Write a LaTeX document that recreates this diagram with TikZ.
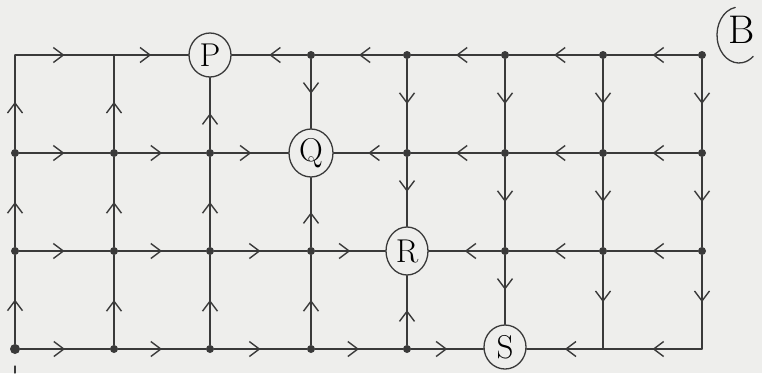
\documentclass[tikz,border=0pt]{standalone}
\usepackage{fontspec}
\setmainfont{Latin Modern Roman}
\usetikzlibrary{arrows.meta,decorations.markings,shapes.geometric}
\definecolor{paper}{HTML}{EEEEEC}
\definecolor{ink}{HTML}{3A3A3A}
\begin{document}
\begin{tikzpicture}[x=1pt,y=-1pt,line cap=round,
  edge/.style={draw=ink, line width=1.3pt, postaction={decorate},
    decoration={markings, mark=at position 0.5 with {\arrow[ink,line width=1.4pt]{Straight Barb[length=10pt,width=15pt]}}}},
  plain/.style={draw=ink, line width=1.3pt},
  dot/.style={circle, fill=ink, inner sep=0pt, minimum size=8pt},
  bigdot/.style={circle, fill=ink, inner sep=0pt, minimum size=10pt},
  lab/.style={ellipse, draw=ink, line width=1.3pt, minimum width=42pt, minimum height=44pt, inner sep=0pt, font=\fontsize{33}{35}\selectfont, fill=paper}]
\fill[paper] (0,0) rectangle (762,373);
\useasboundingbox (0,0) rectangle (762,373);
% row 0 (y=55)
\coordinate (a0) at (15,55);
\coordinate (a1) at (114,55);
\node[lab] (P) at (210,55) {P};
\node[dot] (a3) at (311,55) {};
\node[dot] (a4) at (407,55) {};
\node[dot] (a5) at (505,55) {};
\node[dot] (a6) at (603,55) {};
\node[dot] (a7) at (702,55) {};
% row 1 (y=153)
\node[dot] (b0) at (15,153) {};
\node[dot] (b1) at (114,153) {};
\node[dot] (b2) at (210,153) {};
\node[lab, minimum width=44pt, minimum height=48pt] (Q) at (311,153) {Q};
\node[dot] (b4) at (407,153) {};
\node[dot] (b5) at (505,153) {};
\node[dot] (b6) at (603,153) {};
\node[dot] (b7) at (702,153) {};
% row 2 (y=251)
\node[dot] (c0) at (15,251) {};
\node[dot] (c1) at (114,251) {};
\node[dot] (c2) at (210,251) {};
\node[dot] (c3) at (311,251) {};
\node[lab, minimum width=42pt, minimum height=48pt] (R) at (407,251) {R};
\node[dot] (c5) at (505,251) {};
\node[dot] (c6) at (603,251) {};
\node[dot] (c7) at (702,251) {};
% row 3 (y=349)
\node[bigdot] (d0) at (15,349) {};
\node[dot] (d1) at (114,349) {};
\node[dot] (d2) at (210,349) {};
\node[dot] (d3) at (311,349) {};
\node[dot] (d4) at (407,349) {};
\node[lab] (S) at (505,347) {S};
\coordinate (d6) at (603,349);
\coordinate (d7) at (702,349);
\coordinate (t0) at (15,366);
\coordinate (t1) at (15,373);
% B label
\node[font=\fontsize{40}{42}\selectfont, inner sep=0pt] (B) at (742,30) {B};
\coordinate (Bc) at (739,35);
\draw[plain] (Bc) ++({22*cos(-100)},{28*sin(-100)}) arc[start angle=-100,end angle=-310,x radius=22,y radius=28];
% horizontal edges
\draw[edge] (a0) -- (a1);
\draw[edge] (a1) -- (P);
\draw[edge] (a3) -- (P);
\draw[edge] (a4) -- (a3);
\draw[edge] (a5) -- (a4);
\draw[edge] (a6) -- (a5);
\draw[edge] (a7) -- (a6);
\draw[edge] (b0) -- (b1);
\draw[edge] (b1) -- (b2);
\draw[edge] (b2) -- (Q);
\draw[edge] (b4) -- (Q);
\draw[edge] (b5) -- (b4);
\draw[edge] (b6) -- (b5);
\draw[edge] (b7) -- (b6);
\draw[edge] (c0) -- (c1);
\draw[edge] (c1) -- (c2);
\draw[edge] (c2) -- (c3);
\draw[edge] (c3) -- (R);
\draw[edge] (c5) -- (R);
\draw[edge] (c6) -- (c5);
\draw[edge] (c7) -- (c6);
\draw[edge] (d0) -- (d1);
\draw[edge] (d1) -- (d2);
\draw[edge] (d2) -- (d3);
\draw[edge] (d3) -- (d4);
\draw[edge] (d4) -- (S.west |- d4);
\draw[edge] (d6) -- (S.east |- d6);
\draw[edge] (d7) -- (d6);
% vertical edges
\draw[edge] (d0) -- (c0);
\draw[edge] (c0) -- (b0);
\draw[edge] (b0) -- (a0);
\draw[edge] (d1) -- (c1);
\draw[edge] (c1) -- (b1);
\draw[edge] (b1) -- (a1);
\draw[edge] (d2) -- (c2);
\draw[edge] (c2) -- (b2);
\draw[edge] (b2) -- (P);
\draw[edge] (a3) -- (Q);
\draw[edge] (c3) -- (Q);
\draw[edge] (d3) -- (c3);
\draw[edge] (a4) -- (b4);
\draw[edge] (b4) -- (R);
\draw[edge] (d4) -- (R);
\draw[edge] (a5) -- (b5);
\draw[edge] (b5) -- (c5);
\draw[edge] (c5) -- (S);
\draw[edge] (a6) -- (b6);
\draw[edge] (b6) -- (c6);
\draw[edge] (c6) -- (d6);
\draw[edge] (a7) -- (b7);
\draw[edge] (b7) -- (c7);
\draw[edge] (c7) -- (d7);
\draw[plain] (t0) -- (t1);
\end{tikzpicture}
\end{document}
